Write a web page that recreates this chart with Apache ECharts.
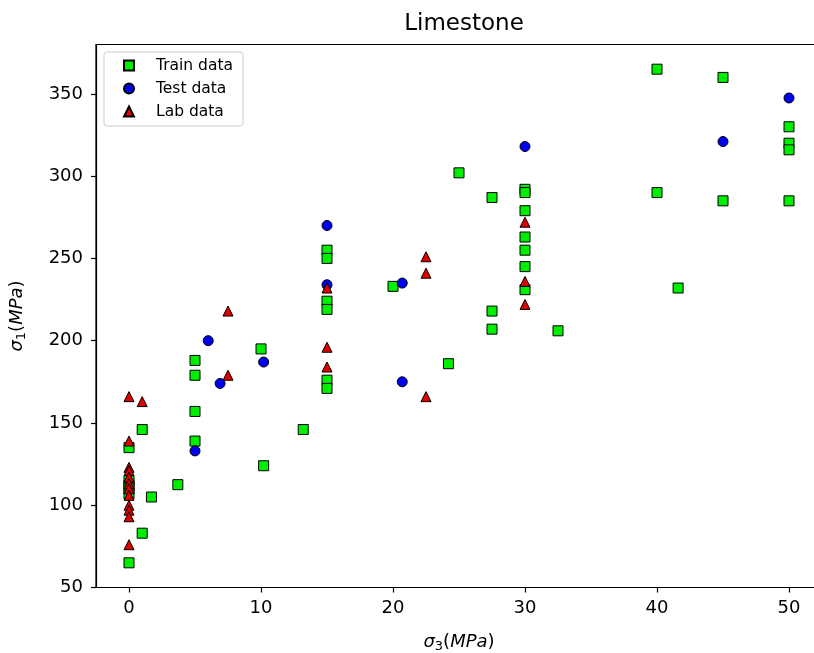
<!DOCTYPE html>
<html>
<head>
<meta charset="utf-8">
<script src="https://cdn.jsdelivr.net/npm/echarts@6/dist/echarts.min.js"></script>
<style>
  html, body { margin: 0; padding: 0; background: #fff; }
  #chart { width: 814px; height: 653px; }
</style>
</head>
<body>
<div id="chart"></div>
<script>
// Confining stress σ3 and peak strength σ1 (MPa) for limestone samples
const trainSigma3 = [0, 0, 0, 0, 0, 0, 1, 1, 1.7, 3.7, 5, 5, 5, 5, 10, 10.2, 13.2,
  15, 15, 15, 15, 15, 15, 20, 24.2, 25, 27.5, 27.5, 27.5,
  30, 30, 30, 30, 30, 30, 30, 32.5, 40, 40, 41.6, 45, 45, 50, 50, 50, 50];
const trainSigma1 = [135, 65, 115, 112, 110, 107, 146, 83, 105, 112.5, 188, 179, 157, 139, 195, 124, 146,
  255, 250, 224, 219, 176, 171, 233, 186, 302, 287, 218, 207,
  292, 290, 279, 263, 255, 245, 231, 206, 365, 290, 232, 360, 285, 330, 320, 316, 285];

const testSigma3 = [5, 6, 6.9, 10.2, 15, 15, 20.7, 20.7, 30, 45, 50];
const testSigma1 = [133, 200, 174, 187, 270, 234, 235, 175, 318, 321, 347.5];

const labSigma3 = [0, 0, 0, 0, 0, 0, 0, 0, 0, 0, 0, 0, 1, 7.5, 7.5,
  15, 15, 15, 22.5, 22.5, 22.5, 30, 30, 30];
const labSigma1 = [166, 139, 123, 121, 117, 113, 110, 106, 100, 97, 93, 76, 163, 218, 179,
  232, 196, 184, 251, 241, 166, 272, 236, 222];

const seriesNames = ['Train data', 'Test data', 'Lab data'];
const xTicks = [0, 10, 20, 30, 40, 50];
const yTicks = [50, 100, 150, 200, 250, 300, 350];

const pairs = (xs, ys) => xs.map((x, i) => [x, ys[i]]);

const FONT = 'DejaVu Sans';
const axisRich = {
  i: { fontFamily: FONT, fontSize: 18, fontStyle: 'italic', color: '#000', lineHeight: 22, verticalAlign: 'middle' },
  n: { fontFamily: FONT, fontSize: 18, color: '#000', lineHeight: 22, verticalAlign: 'middle' },
  s: { fontFamily: FONT, fontSize: 13, color: '#000', lineHeight: 13, verticalAlign: 'bottom' }
};

const chart = echarts.init(document.getElementById('chart'), null, { renderer: 'canvas' });

const markerStyle = (color) => ({ color: color, borderColor: '#000', borderWidth: 1, opacity: 1 });

chart.setOption({
  animation: false,
  backgroundColor: '#fff',
  title: {
    text: 'Limestone',
    left: 459,
    top: 8,
    textAlign: 'center',
    textStyle: { fontFamily: FONT, fontSize: 23, fontWeight: 'normal', color: '#000' }
  },
  legend: {
    data: seriesNames,
    orient: 'vertical',
    left: 104,
    top: 52,
    padding: [5, 10, 6, 19],
    itemWidth: 10,
    itemHeight: 10,
    itemGap: 6,
    backgroundColor: '#fff',
    borderColor: '#cccccc',
    borderWidth: 1,
    borderRadius: 3,
    textStyle: { fontFamily: FONT, fontSize: 15.5, color: '#000', lineHeight: 17, padding: [0, 0, 0, 17] }
  },
  grid: {
    left: 96,
    width: 726,
    top: 44.5,
    height: 543,
    show: true,
    borderColor: '#000',
    borderWidth: 1.2,
    backgroundColor: 'transparent',
    containLabel: false,
    outerBoundsMode: 'none'
  },
  xAxis: {
    type: 'value',
    min: -2.5,
    max: 52.5,
    name: '{i|σ}{s|3}{n|(}{i|MPa}{n|)}',
    nameLocation: 'middle',
    nameGap: 44,
    nameTextStyle: { rich: axisRich },
    axisLine: { show: true, onZero: false, lineStyle: { color: '#000', width: 1.2 } },
    axisTick: { show: true, inside: false, length: 5, customValues: xTicks, lineStyle: { color: '#000', width: 1.2 } },
    axisLabel: { customValues: xTicks, margin: 12, fontFamily: FONT, fontSize: 18, color: '#000' },
    splitLine: { show: false }
  },
  yAxis: {
    type: 'value',
    min: 50,
    max: 380,
    name: '{i|σ}{s|1}{n|(}{i|MPa}{n|)}',
    nameLocation: 'middle',
    nameGap: 68,
    nameTextStyle: { rich: axisRich },
    axisLine: { show: true, onZero: false, lineStyle: { color: '#000', width: 1.2 } },
    axisTick: { show: true, inside: false, length: 5, customValues: yTicks, lineStyle: { color: '#000', width: 1.2 } },
    axisLabel: { customValues: yTicks, margin: 13, fontFamily: FONT, fontSize: 18, color: '#000' },
    splitLine: { show: false }
  },
  series: [
    {
      name: seriesNames[0],
      type: 'scatter',
      symbol: 'rect',
      symbolSize: 10,
      data: pairs(trainSigma3, trainSigma1),
      itemStyle: markerStyle('#00ee00')
    },
    {
      name: seriesNames[1],
      type: 'scatter',
      symbol: 'circle',
      symbolSize: 10,
      data: pairs(testSigma3, testSigma1),
      itemStyle: markerStyle('#0000f0')
    },
    {
      name: seriesNames[2],
      type: 'scatter',
      symbol: 'triangle',
      symbolSize: 10,
      data: pairs(labSigma3, labSigma1),
      itemStyle: markerStyle('#e00000')
    }
  ]
});
</script>
</body>
</html>
